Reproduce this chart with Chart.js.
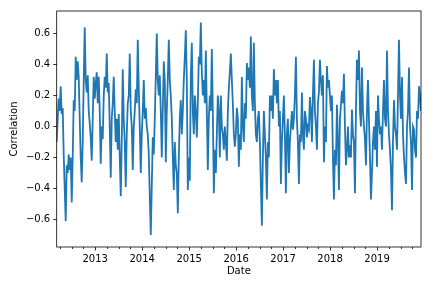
<!DOCTYPE html>
<html><head><meta charset="utf-8">
<script src="https://cdn.jsdelivr.net/npm/chart.js@4"></script>
<style>html,body{margin:0;padding:0;background:#fff}canvas{display:block}</style>
</head><body>
<canvas id="c" width="432" height="288" style="width:432px;height:288px"></canvas>
<script>
const startYear = 2012.18;
const endYear = 2019.936;
const correlation = [
-0.1,0.05,0.18,0.1,0.26,0.08,0.12,-0.18,-0.4,-0.61,
-0.25,-0.3,-0.18,-0.28,-0.2,-0.49,-0.2,0.17,0.1,0.45,
0.3,0.42,0.32,0.05,-0.2,-0.36,-0.1,0.3,0.64,0.3,
0.22,0.33,0.1,0.02,-0.07,-0.22,0.05,0.32,0.18,0.28,
0.35,0.15,0.32,0.1,-0.24,0.0,-0.08,0.2,0.32,0.25,
0.47,0.22,0.28,0.0,-0.33,0.05,0.15,0.32,0.1,-0.1,
0.05,-0.15,0.08,-0.2,-0.45,-0.1,0.37,0.05,-0.1,-0.39,
-0.05,0.15,0.2,0.47,0.1,0.0,-0.28,0.0,0.1,0.24,
0.15,0.56,0.25,0.0,-0.3,-0.05,0.1,0.3,0.05,0.12,
0.0,-0.05,-0.18,-0.45,-0.7,-0.38,-0.07,-0.18,0.05,0.32,
0.6,0.3,0.2,0.33,0.1,-0.2,0.1,0.42,0.3,-0.23,
0.1,0.3,0.56,0.3,0.2,0.05,-0.2,-0.41,-0.1,-0.25,
-0.3,-0.56,-0.2,0.05,0.17,-0.05,0.1,0.3,0.45,0.62,
0.3,-0.41,-0.2,-0.35,0.32,0.54,0.1,-0.05,0.2,0.1,
-0.07,0.15,0.45,0.4,0.67,0.35,0.2,0.3,0.15,0.49,
0.1,-0.28,0.05,0.2,0.1,0.5,0.1,-0.43,-0.15,-0.3,
-0.05,0.2,0.1,-0.2,0.2,0.0,-0.05,-0.15,0.0,-0.1,
-0.22,0.1,0.25,0.35,0.47,0.3,0.15,-0.05,-0.13,-0.05,
0.12,0.05,-0.26,-0.05,-0.15,0.32,0.0,-0.1,0.15,0.05,
0.41,0.3,0.38,0.25,0.58,0.2,0.1,0.54,0.15,-0.05,
-0.1,0.05,0.1,-0.1,-0.37,-0.64,-0.2,0.1,-0.05,-0.2,
-0.47,-0.1,-0.2,0.2,0.1,0.2,0.05,0.37,0.2,0.3,
0.15,0.3,0.0,0.1,-0.37,-0.1,0.05,0.2,-0.05,-0.43,
-0.05,0.05,-0.3,-0.1,0.0,0.1,-0.02,0.05,0.2,0.45,
0.05,-0.1,-0.37,-0.05,-0.1,0.22,-0.05,-0.15,0.1,0.05,
-0.07,0.0,-0.02,0.19,0.1,-0.1,0.2,0.43,0.1,0.0,
-0.15,0.15,0.22,0.43,0.3,0.2,0.33,-0.23,0.0,-0.1,
0.39,0.25,0.3,0.2,0.1,0.2,-0.2,-0.47,-0.15,-0.25,
0.14,-0.1,-0.41,0.05,0.14,0.23,0.15,0.34,0.0,-0.25,
-0.15,0.0,-0.2,-0.12,-0.2,0.11,-0.05,-0.1,-0.43,0.1,
0.43,0.3,0.49,0.1,0.0,0.38,0.1,0.0,-0.08,-0.25,
0.1,0.3,0.05,-0.2,-0.47,-0.3,-0.1,0.0,-0.15,0.1,
-0.26,0.2,0.05,-0.05,0.0,-0.15,0.1,0.3,0.05,0.0,
0.49,0.1,-0.05,-0.15,-0.28,-0.54,-0.1,0.17,0.0,-0.05,
-0.15,0.2,0.56,0.2,0.05,0.32,-0.05,-0.2,-0.3,-0.37,
0.0,0.1,0.38,0.0,-0.1,-0.41,0.0,-0.02,-0.15,-0.2,
0.1,0.05,0.26,0.2,0.1
];
const yTicks = [-0.6,-0.4,-0.2,0.0,0.2,0.4,0.6];
const yearTicks = [2013,2014,2015,2016,2017,2018,2019];
const yMin = -0.777, yMax = 0.745;

const step = (endYear - startYear) / (correlation.length - 1);
const points = correlation.map((v, i) => ({x: startYear + i * step, y: v}));

const tickFont = {family: 'DejaVu Sans', size: 10};
const frame = {
  id: 'frame',
  afterDraw(chart) {
    const {ctx, chartArea: a} = chart;
    const x = chart.scales.x;
    ctx.save();
    ctx.strokeStyle = '#000';
    ctx.lineWidth = 0.8;
    ctx.strokeRect(a.left, a.top, a.right - a.left, a.bottom - a.top);
    for (let yr = 2012; yr <= 2020; yr++) {
      for (let q = 1; q < 4; q++) {
        const v = yr + q * 0.25;
        if (v < x.min || v > x.max) continue;
        const px = Math.round(x.getPixelForValue(v)) + 0.5;
        ctx.beginPath();
        ctx.moveTo(px, a.bottom);
        ctx.lineTo(px, a.bottom + 2);
        ctx.stroke();
      }
    }
    ctx.restore();
  }
};

new Chart(document.getElementById('c'), {
  type: 'line',
  data: {datasets: [{
    data: points,
    borderColor: '#1f77b4',
    borderWidth: 1.8,
    pointRadius: 0,
    tension: 0,
    fill: false
  }]},
  options: {
    responsive: false,
    animation: false,
    devicePixelRatio: 1,
    layout: {padding: {top: 11, right: 11, left: 0, bottom: 0}},
    plugins: {legend: {display: false}, tooltip: {enabled: false}},
    scales: {
      x: {
        type: 'linear', min: startYear, max: endYear,
        afterBuildTicks: s => { s.ticks = yearTicks.map(v => ({value: v})); },
        afterFit: s => { s.height = 41; },
        ticks: {callback: v => String(v), autoSkip: false, maxRotation: 0, font: tickFont, color: '#000', padding: 3},
        grid: {drawOnChartArea: false, drawTicks: true, tickLength: 3.5, color: '#000', lineWidth: 0.8},
        border: {display: false},
        title: {display: true, text: 'Date', font: tickFont, color: '#000', padding: {top: 0, bottom: 11}}
      },
      y: {
        type: 'linear', min: yMin, max: yMax,
        afterBuildTicks: s => { s.ticks = yTicks.map(v => ({value: v})); },
        afterFit: s => { s.width = 56.7; },
        ticks: {callback: v => (v < 0 ? '\u2212' : '') + Math.abs(v).toFixed(1), font: tickFont, color: '#000', padding: 3},
        grid: {drawOnChartArea: false, drawTicks: true, tickLength: 3.5, color: '#000', lineWidth: 0.8},
        border: {display: false},
        title: {display: true, text: 'Correlation', font: tickFont, color: '#000', padding: {top: 8.5, bottom: 0}}
      }
    }
  },
  plugins: [frame]
});
</script>
</body></html>
